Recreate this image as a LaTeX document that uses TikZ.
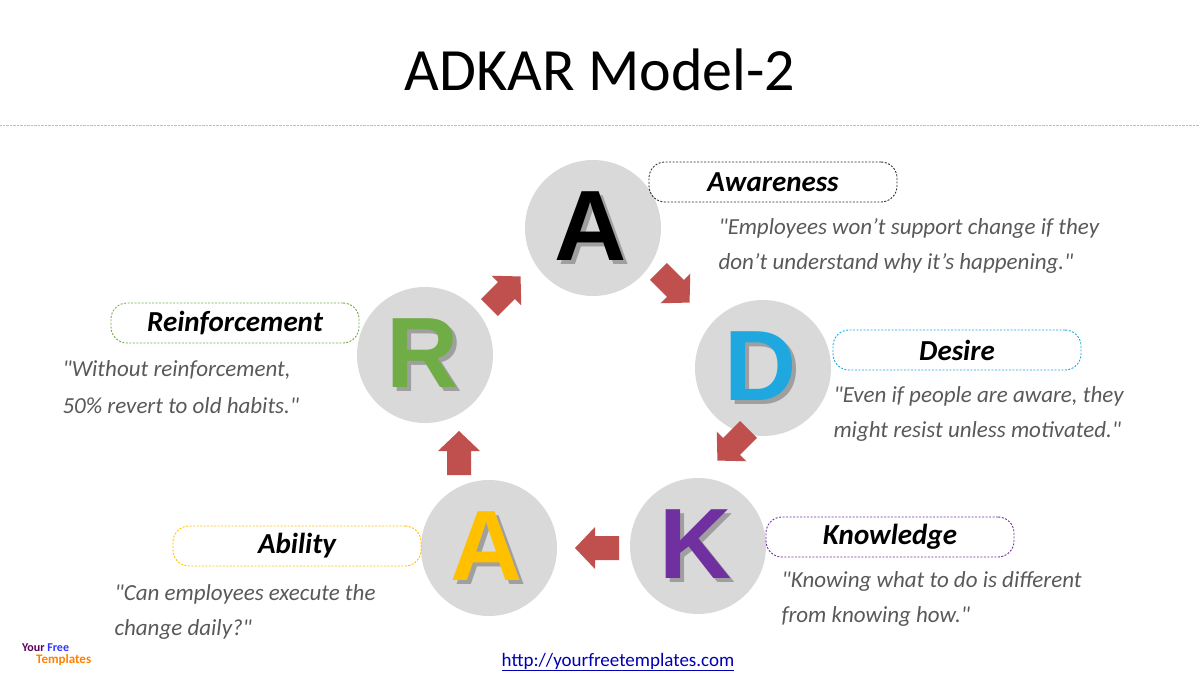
\documentclass[tikz,border=0pt]{standalone}
\usepackage{fontspec}
\setmainfont{Carlito}
\newfontfamily\qf{Carlito}
\newfontfamily\lettf{Liberation Sans}
\definecolor{arr}{HTML}{C0504D}
\definecolor{circ}{HTML}{D9D9D9}
\definecolor{qtx}{HTML}{595959}
\definecolor{cD}{HTML}{1FA8E0}
\definecolor{cK}{HTML}{7030A0}
\definecolor{cA}{HTML}{FFC000}
\definecolor{cR}{HTML}{70AD47}
\tikzset{
 circ/.style={circle,fill=circ,minimum size=136pt,inner sep=0pt},
 lab/.style={draw=#1,line width=0.9pt,dash pattern=on 2pt off 1.5pt,rounded corners=16pt,minimum width=248pt,minimum height=40pt,font=\fontsize{29}{32}\selectfont\bfseries\itshape},
 qt/.style={anchor=west,text=qtx,font=\qf\fontsize{23}{26}\selectfont\itshape},
}
\newcommand{\bigletter}[2]{\lettf\fontsize{100}{100}\selectfont\bfseries\textcolor{#1}{#2}}
\newcommand{\blockarrow}[2]{\fill[arr,shift={(#1)},rotate=#2] (-22,-12) -- (2,-12) -- (2,-21) -- (22,0) -- (2,21) -- (2,12) -- (-22,12) -- cycle;}
\begin{document}
\begin{tikzpicture}[x=1pt,y=-1pt]
\useasboundingbox (0,0) rectangle (1200,675);
\node (title) at (600,70) {\fontsize{60}{66}\selectfont ADKAR Model-2};
\draw[gray!50,densely dotted] (0,125) -- (1200,125);
\foreach \n/\x/\y/\c/\t in {cA1/593/228/black/A,cD/763/368/cD/D,cK/698/546/cK/K,cA2/489/548/cA/A,cR/425/355/cR/R}{
 \node[circ] (\n) at (\x,\y) {};
 \node (t\n) at (\x,\y) {\begin{tikzpicture}[x=1pt,y=1pt]\node at (4,-4) {\bigletter{gray!75}{\t}};\node at (0,0) {\bigletter{\c}{\t}};\end{tikzpicture}};
}
\coordinate (r1) at (505,292);
\coordinate (r2) at (674,287);
\coordinate (r3) at (733,445);
\coordinate (r4) at (597,548);
\coordinate (r5) at (459,453);
\blockarrow{r1}{45}
\blockarrow{r2}{-45}
\blockarrow{r3}{-135}
\blockarrow{r4}{180}
\blockarrow{r5}{90}
\node[lab=black!80] (lA) at (773,182) {Awareness};
\node[lab=cD] (lD) at (957,350) {Desire};
\node[lab=cK] (lK) at (890,537) {Knowledge};
\node[lab=cA] (lA2) at (297,546) {Ability};
\node[lab=cR] (lR) at (235,323) {Reinforcement};
\node[qt] (q1) at (715,228) {"Employees won’t support change if they};
\node[qt] (q1b) at (715,263) {don’t understand why it’s happening."};
\node[qt] (q2) at (830,396) {"Even if people are aware, they};
\node[qt] (q2b) at (830,431) {might resist unless motivated."};
\node[qt] (q3) at (778,581) {"Knowing what to do is different};
\node[qt] (q3b) at (778,616) {from knowing how."};
\node[qt] (q4) at (111,594) {"Can employees execute the};
\node[qt] (q4b) at (111,629) {change daily?"};
\node[qt] (q5) at (59,370) {"Without reinforcement,};
\node[qt] (q5b) at (59,406) {50\% revert to old habits."};
\node[text=blue!70!black] (url) at (618,662) {\fontsize{19}{20}\selectfont\underline{http://yourfreetemplates.com}};
\node[anchor=west,inner sep=0pt] (lg1) at (22,648) {\fontsize{12}{12}\selectfont\bfseries\textcolor{violet!70!black}{Your} \textcolor{blue!80}{Free}};
\node[anchor=west,inner sep=0pt] (lg2) at (36,660) {\fontsize{13}{13}\selectfont\bfseries\textcolor{orange}{Templates}};
\end{tikzpicture}
\end{document}
